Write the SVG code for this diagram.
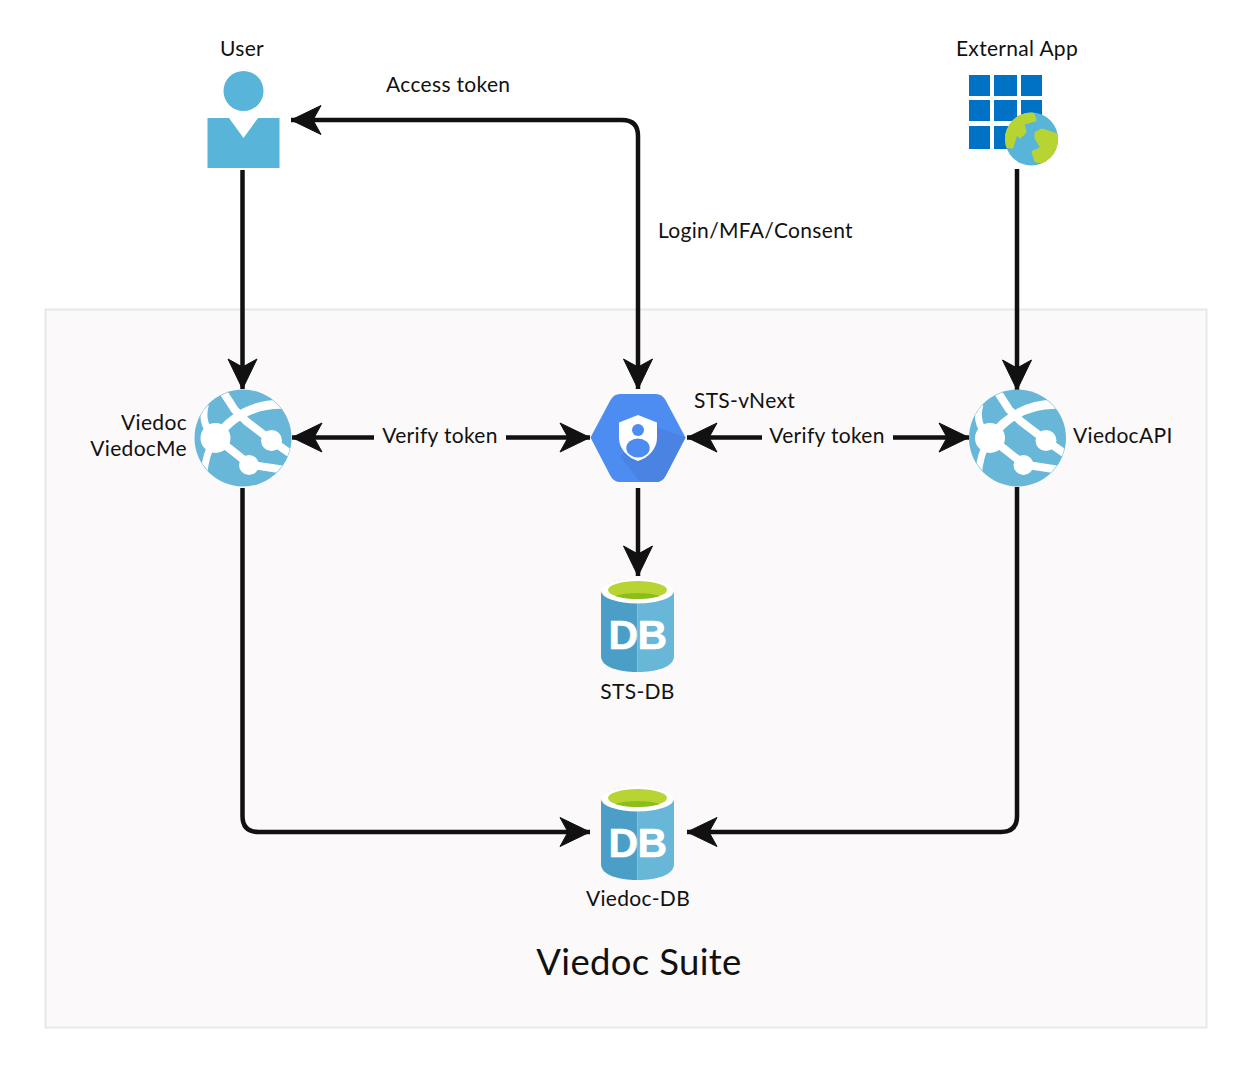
<svg xmlns="http://www.w3.org/2000/svg" width="1252" height="1073" viewBox="0 0 1252 1073">
<style>
text{font-family:"Lato","Liberation Sans",sans-serif;font-size:21px;fill:#111;letter-spacing:.32px}
.m{text-anchor:middle}.e{text-anchor:end}
.c{fill:none;stroke:#111;stroke-width:4.500;stroke-linejoin:round}
.dbt{font-family:"Liberation Sans",sans-serif;font-weight:700;font-size:41px;fill:#fff;stroke:#fff;stroke-width:.6px;letter-spacing:-.5px}
</style>
<defs>
<marker id="a" markerUnits="userSpaceOnUse" markerWidth="32" markerHeight="32" refX="31" refY="16" viewBox="0 0 32 32" orient="auto">
<path d="M1 1.500L31 16 1 30.500 9 16Z" fill="#111" stroke="#111" stroke-width="1" stroke-linejoin="round"/>
</marker>
<marker id="s" markerUnits="userSpaceOnUse" markerWidth="32" markerHeight="32" refX="31" refY="16" viewBox="0 0 32 32" orient="auto-start-reverse">
<path d="M1 1.500L31 16 1 30.500 9 16Z" fill="#111" stroke="#111" stroke-width="1" stroke-linejoin="round"/>
</marker>
<clipPath id="gc"><circle cx="48.500" cy="48.500" r="48"/></clipPath>
<clipPath id="ec"><circle cx="1031.500" cy="139" r="26.500"/></clipPath>
<g id="globe">
<circle cx="48.500" cy="48.500" r="48.500" fill="#68b6d8"/>
<g clip-path="url(#gc)">
<path d="M11 15C7 28 11 40 21 49C13 60 10 72 9 88" fill="none" stroke="#fff" stroke-width="7"/>
<path d="M29 3L40 20L52 32L77 51L97 65" fill="none" stroke="#fff" stroke-width="8"/>
<path d="M21 49C34 31 56 13 92 15" fill="none" stroke="#fff" stroke-width="9"/>
<path d="M21 48L55 75L94 81" fill="none" stroke="#fff" stroke-width="8"/>
<circle cx="21" cy="48.500" r="15" fill="#fff"/>
<circle cx="77" cy="51" r="10.500" fill="#fff"/>
<circle cx="54.500" cy="75.500" r="10" fill="#fff"/>
</g>
</g>
<g id="db">
<path d="M0 14V77C0 88 17 93 36.500 93V0C17 0 0 5 0 14Z" fill="#4b9fc7"/>
<path d="M73 14V77C73 88 56 93 36.500 93V0C56 0 73 5 73 14Z" fill="#68b6d8"/>
<ellipse cx="36.500" cy="12" rx="36.500" ry="12.500" fill="#fff"/>
<ellipse cx="36.500" cy="11" rx="29.500" ry="9" fill="#b8d432"/>
<path d="M14 17C26 13 47 13 59 17C47 21 26 21 14 17Z" fill="#8cbd18"/>
<text class="dbt" x="36.500" y="70" text-anchor="middle">DB</text>
</g>
</defs>
<rect width="1252" height="1073" fill="#fff"/>
<rect id="suite" x="45.500" y="309.500" width="1161" height="718" fill="#fbf9fa" stroke="#e8e8e8" stroke-width="2"/>
<g id="connectors">
<path class="c" marker-end="url(#a)" d="M242.500 170V389"/>
<path class="c" marker-end="url(#a)" marker-start="url(#s)" d="M291 120H622Q638 120 638 136V389"/>
<path class="c" marker-end="url(#a)" d="M1017 169V390"/>
<path class="c" marker-start="url(#s)" d="M292 437.500H374"/>
<path class="c" marker-end="url(#a)" d="M506 437.500H590"/>
<path class="c" marker-start="url(#s)" d="M687 437.500H762"/>
<path class="c" marker-end="url(#a)" d="M893 437.500H969"/>
<path class="c" marker-end="url(#a)" d="M638 488V576"/>
<path class="c" marker-end="url(#a)" d="M242.500 488V816Q242.500 832 258.500 832H590"/>
<path class="c" marker-end="url(#a)" d="M1017 487V816Q1017 832 1001 832H687"/>
</g>
<g id="user">
<circle cx="243.500" cy="91" r="20" fill="#59b4d9"/>
<path d="M207.500 118H229L243.500 138 258 118H279.500V168H207.500Z" fill="#59b4d9"/>
<text class="m" x="242" y="56">User</text>
</g>
<g id="external-app">
<g fill="#0072c6">
<rect x="969" y="75" width="21" height="21"/><rect x="994" y="75" width="23" height="21"/><rect x="1021" y="75" width="21" height="21"/>
<rect x="969" y="100" width="21" height="21"/><rect x="994" y="100" width="23" height="21"/><rect x="1021" y="100" width="21" height="21"/>
<rect x="969" y="126" width="21" height="23"/><rect x="994" y="126" width="23" height="23"/><rect x="1021" y="126" width="21" height="23"/>
</g>
<circle cx="1031.500" cy="139" r="26.500" fill="#59b4d9"/>
<g clip-path="url(#ec)">
<path d="M1003 137L1020 111L1033 114L1035 120L1028 122L1023 123L1025 132L1020 137L1017 133L1015 137L1012 147L1004 146Z M1036 133L1042 130L1060 136L1058 150L1043 162L1036 161L1033 152L1042 148L1036 138Z" fill="#b8d432" stroke="#b8d432" stroke-width="3" stroke-linejoin="round"/>
</g>
<text class="m" x="1017" y="56">External App</text>
</g>
<g id="viedoc-me">
<use href="#globe" x="194.500" y="389.500"/>
<text class="e" x="187" y="430">Viedoc</text>
<text class="e" x="187" y="456">ViedocMe</text>
</g>
<g id="sts">
<path d="M590.500 437.500L610.500 400Q614 394 620 394H656Q662 394 665.500 400L685.500 437.500L665.500 476Q662 482 656 482H620Q614 482 610.500 476Z" fill="#4d8cf1"/>
<path d="M656 427L685.500 437.500L665.500 476Q662 482 656 482H640L620 456Z" fill="#4a83e2"/>
<path d="M638 415L657 422.500V438C657 449 648 458 638 461C628 458 619 449 619 438V422.500Z" fill="#fff"/>
<circle cx="638" cy="430" r="6" fill="#4d8cf1"/>
<ellipse cx="638" cy="448" rx="11.700" ry="9.500" fill="#4d8cf1"/>
<text x="694" y="408">STS-vNext</text>
</g>
<g id="viedoc-api">
<use href="#globe" x="969" y="389.500"/>
<text x="1073" y="443">ViedocAPI</text>
</g>
<g id="sts-db">
<use href="#db" x="601" y="579"/>
<text class="m" x="637.500" y="699">STS-DB</text>
</g>
<g id="viedoc-db">
<use href="#db" x="601" y="787"/>
<text class="m" x="638" y="906">Viedoc-DB</text>
</g>
<g id="labels">
<text x="386" y="92">Access token</text>
<text x="658" y="238">Login/MFA/Consent</text>
<text class="m" x="440" y="443">Verify token</text>
<text class="m" x="827" y="443">Verify token</text>
<text class="m" x="639" y="975" style="font-size:36.500px">Viedoc Suite</text>
</g>
</svg>
